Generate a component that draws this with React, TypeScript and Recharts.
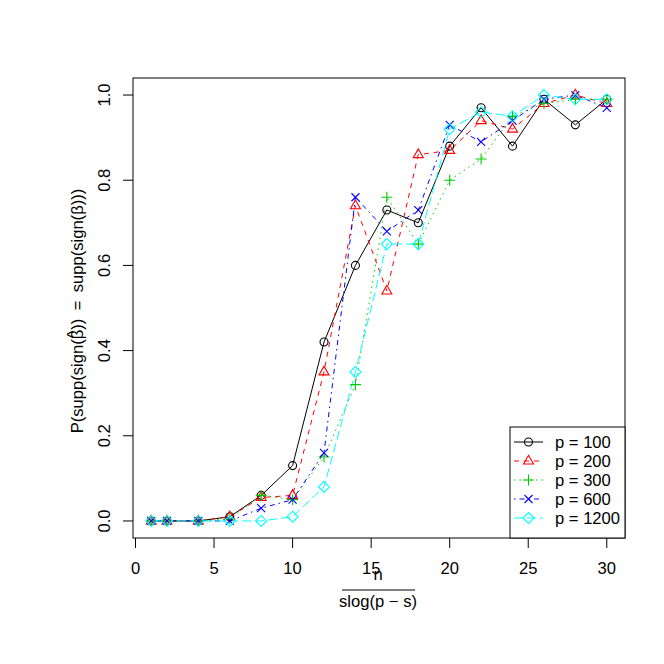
import React from 'react'
import { Customized, Line, LineChart, XAxis, YAxis } from 'recharts'

const xVals = [1, 2, 4, 6, 8, 10, 12, 14, 16, 18, 20, 22, 24, 26, 28, 30]
const p100 = [0, 0, 0, 0.01, 0.06, 0.13, 0.42, 0.6, 0.73, 0.7, 0.88, 0.97, 0.88, 0.99, 0.93, 0.99]
const p200 = [0, 0, 0, 0.01, 0.055, 0.06, 0.35, 0.74, 0.54, 0.86, 0.87, 0.94, 0.92, 0.98, 1.0, 0.98]
const p300 = [0, 0, 0, 0.005, 0.06, 0.05, 0.15, 0.32, 0.76, 0.65, 0.8, 0.85, 0.95, 0.98, 0.99, 0.99]
const p600 = [0, 0, 0, 0, 0.03, 0.05, 0.16, 0.76, 0.68, 0.73, 0.93, 0.89, 0.94, 0.99, 1.0, 0.97]
const p1200 = [0, 0, 0, 0, 0, 0.01, 0.08, 0.35, 0.65, 0.65, 0.92, 0.96, 0.95, 1.0, 0.99, 0.99]

const xTicks = [0, 5, 10, 15, 20, 25, 30]
const yTicks = [0, 0.2, 0.4, 0.6, 0.8, 1.0]

const FONT = '"Liberation Sans", Arial, sans-serif'

type Shape = 'circle' | 'triangle' | 'plus' | 'cross' | 'diamond'

function marker(shape: Shape, cx: number, cy: number, color: string, key?: React.Key) {
  const common = { fill: 'none', stroke: color, strokeWidth: 1.1 }
  switch (shape) {
    case 'circle':
      return <circle key={key} cx={cx} cy={cy} r={4} {...common} />
    case 'triangle':
      return (
        <polygon
          key={key}
          points={`${cx - 5},${cy + 3} ${cx + 5},${cy + 3} ${cx},${cy - 5.7}`}
          {...common}
        />
      )
    case 'plus':
      return (
        <path key={key} d={`M${cx - 5.5},${cy}H${cx + 5.5}M${cx},${cy - 5.5}V${cy + 5.5}`} {...common} />
      )
    case 'cross':
      return (
        <path
          key={key}
          d={`M${cx - 4},${cy - 4}L${cx + 4},${cy + 4}M${cx - 4},${cy + 4}L${cx + 4},${cy - 4}`}
          {...common}
        />
      )
    default:
      return (
        <polygon
          key={key}
          points={`${cx},${cy - 5.5} ${cx + 5.5},${cy} ${cx},${cy + 5.5} ${cx - 5.5},${cy}`}
          {...common}
        />
      )
  }
}

const series = [
  { key: 'p100', label: 'p = 100', values: p100, color: '#000000', dash: undefined, shape: 'circle' as Shape },
  { key: 'p200', label: 'p = 200', values: p200, color: '#FF0000', dash: '5 5', shape: 'triangle' as Shape },
  { key: 'p300', label: 'p = 300', values: p300, color: '#00CD00', dash: '1.5 4', shape: 'plus' as Shape },
  { key: 'p600', label: 'p = 600', values: p600, color: '#0000FF', dash: '1.5 4 5 4', shape: 'cross' as Shape },
  { key: 'p1200', label: 'p = 1200', values: p1200, color: '#00FFFF', dash: '9 4', shape: 'diamond' as Shape },
]

const data = xVals.map((x, i) => {
  const row: Record<string, number> = { x }
  series.forEach((s) => (row[s.key] = s.values[i]))
  return row
})

function XTick({ x, y, payload }: any) {
  return (
    <text x={x} y={y + 24} textAnchor="middle" fontSize={16.6} fontFamily={FONT} fill="#000">
      {payload.value}
    </text>
  )
}

function YTick({ y, payload }: any) {
  return (
    <text
      x={110}
      y={y}
      transform={`rotate(-90, 110, ${y})`}
      textAnchor="middle"
      fontSize={16.6}
      fontFamily={FONT}
      fill="#000"
    >
      {payload.value.toFixed(1)}
    </text>
  )
}

function Extras() {
  const ly = [442, 461, 480, 499, 518]
  return (
    <g fontFamily={FONT} fill="#000">
      <rect x={133} y={78} width={492} height={460} fill="none" stroke="#000" strokeWidth={1} />
      {/* y title, hat drawn as a raised caret over the first beta */}
      <text
        x={83}
        y={311}
        transform="rotate(-90, 83, 311)"
        textAnchor="middle"
        fontSize={16.6}
      >
        P(supp(sign(β
        <tspan dx={-8.6} dy={-4}>^</tspan>
        <tspan dx={0.8} dy={4}>)){'\u2002'}={'\u2002'}supp(sign(β)))</tspan>
      </text>
      {/* x title as a fraction */}
      <text x={378} y={580} textAnchor="middle" fontSize={16.6}>
        n
      </text>
      <line x1={342} x2={415} y1={590} y2={590} stroke="#000" strokeWidth={1} />
      <text x={378} y={607} textAnchor="middle" fontSize={16.6}>
        slog(p − s)
      </text>
      {/* legend */}
      <rect x={510} y={427} width={115} height={111} fill="#fff" stroke="#000" strokeWidth={1} />
      {series.map((s, i) => (
        <g key={s.key}>
          <line
            x1={514}
            x2={543}
            y1={ly[i]}
            y2={ly[i]}
            stroke={s.color}
            strokeDasharray={s.dash}
            strokeWidth={1}
          />
          {marker(s.shape, 528.5, ly[i], s.color)}
          <text x={555} y={ly[i] + 6} fontSize={16.6}>
            {s.label}
          </text>
        </g>
      ))}
    </g>
  )
}

export default function App() {
  return (
    <div style={{ position: 'absolute', left: 0, top: 0, width: 664, height: 664, background: '#fff' }}>
      <LineChart width={664} height={664} data={data} margin={{ top: 78, right: 39, bottom: 86, left: 73 }}>
        <XAxis
          dataKey="x"
          type="number"
          domain={[-0.16, 31.16]}
          ticks={xTicks}
          axisLine={false}
          tickLine={{ stroke: '#000' }}
          tickSize={10}
          height={40}
          tick={<XTick />}
          allowDataOverflow
        />
        <YAxis
          type="number"
          domain={[-0.04, 1.04]}
          ticks={yTicks}
          axisLine={false}
          tickLine={{ stroke: '#000' }}
          tickSize={10}
          width={60}
          tick={<YTick />}
          allowDataOverflow
        />
        {series.map((s) => (
          <Line
            key={s.key}
            dataKey={s.key}
            type="linear"
            stroke={s.color}
            strokeWidth={1}
            strokeDasharray={s.dash}
            isAnimationActive={false}
            dot={(props: any) => marker(s.shape, props.cx, props.cy, s.color, props.index)}
            activeDot={false}
          />
        ))}
        <Customized component={Extras} />
      </LineChart>
    </div>
  )
}
